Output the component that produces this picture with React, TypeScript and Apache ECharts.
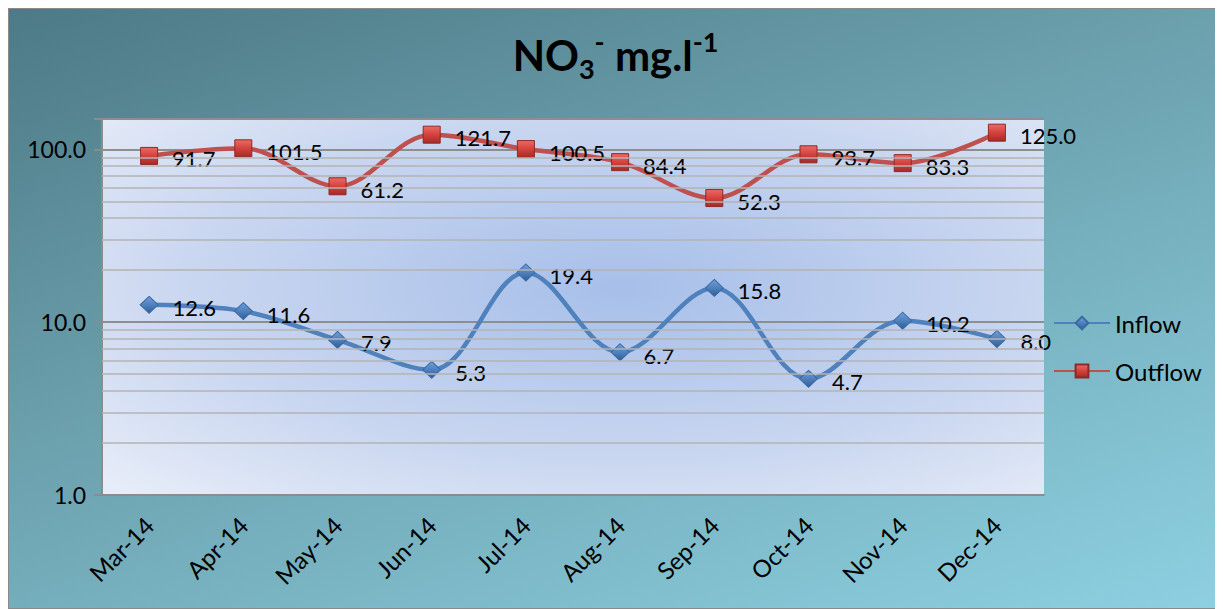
import React, { useEffect, useRef } from 'react';
import * as echarts from 'echarts';

const months = ['Mar-14', 'Apr-14', 'May-14', 'Jun-14', 'Jul-14', 'Aug-14', 'Sep-14', 'Oct-14', 'Nov-14', 'Dec-14'];
const inflow = [12.6, 11.6, 7.9, 5.3, 19.4, 6.7, 15.8, 4.7, 10.2, 8.0];
const outflow = [91.7, 101.5, 61.2, 121.7, 100.5, 84.4, 52.3, 93.7, 83.3, 125.0];
const majorTicks = [1, 10, 100];
const minorGrid = [2, 3, 4, 5, 6, 7, 8, 9, 20, 30, 40, 50, 60, 70, 80, 90];
const yMin = 1;
const yMax = 150;

const FONT = 'Lato, "Open Sans", "Liberation Sans", sans-serif';

export default function App() {
  const ref = useRef<HTMLDivElement>(null);

  useEffect(() => {
    if (!ref.current) return;
    const chart = echarts.init(ref.current, undefined, { renderer: 'svg' });

    const blueFill = new echarts.graphic.LinearGradient(0, 0, 0, 1, [
      { offset: 0, color: '#6f9fdc' },
      { offset: 0.5, color: '#4f81bd' },
      { offset: 1, color: '#2f5d95' },
    ]);
    const redFill = new echarts.graphic.LinearGradient(0, 0, 0, 1, [
      { offset: 0, color: '#ec6a64' },
      { offset: 0.5, color: '#d4423d' },
      { offset: 1, color: '#a52a26' },
    ]);

    const labelCommon = {
      show: true,
      position: 'right' as const,
      distance: 14,
      offset: [0, 3],
      color: '#000',
      fontSize: 22,
      fontFamily: FONT,
      formatter: (p: any) => Number(p.value).toFixed(1),
    };

    chart.setOption({
      animation: false,
      textStyle: { fontFamily: FONT },
      title: {
        left: 'center',
        top: 14,
        text: '{b|NO}{sub|3}{sup|-}{b| mg.l}{sup|-1}',
        textStyle: {
          rich: {
            b: { fontSize: 42, fontWeight: 'bold', color: '#000', fontFamily: FONT, lineHeight: 54 },
            sub: { fontSize: 27, fontWeight: 'bold', color: '#000', fontFamily: FONT, lineHeight: 27, verticalAlign: 'bottom' },
            sup: { fontSize: 27, fontWeight: 'bold', color: '#000', fontFamily: FONT, lineHeight: 54, verticalAlign: 'top' },
          },
        },
      },
      legend: {
        orient: 'vertical',
        left: 1039,
        top: 297,
        itemWidth: 56,
        itemHeight: 16,
        itemGap: 24,
        data: ['Inflow', 'Outflow'],
        textStyle: { fontSize: 24, color: '#000', fontFamily: FONT },
      },
      grid: {
        left: 93,
        top: 110,
        right: 178,
        bottom: 113,
        show: true,
        borderWidth: 0,
        backgroundColor: new echarts.graphic.RadialGradient(0.55, 0.45, 0.75, [
          { offset: 0, color: '#a7bfe9' },
          { offset: 0.6, color: '#c9d6f0' },
          { offset: 1, color: '#e6ecf8' },
        ]),
      },
      xAxis: {
        type: 'category',
        data: months,
        boundaryGap: true,
        axisLine: { show: true, lineStyle: { color: '#8c8c8c', width: 2 } },
        axisTick: { show: false },
        axisLabel: { rotate: 45, fontSize: 24, color: '#000', margin: 26, fontFamily: FONT },
        splitLine: { show: false },
      },
      yAxis: {
        type: 'log',
        logBase: 10,
        min: yMin,
        max: yMax,
        axisLine: { show: true, lineStyle: { color: '#8c8c8c', width: 2 } },
        axisTick: { show: true, inside: false, length: 8, lineStyle: { color: '#8c8c8c', width: 2 } },
        axisLabel: {
          fontSize: 23,
          color: '#000',
          margin: 16,
          fontFamily: FONT,
          formatter: (v: number) => {
            const hit = majorTicks.find((t) => Math.abs(t - v) / t < 1e-6);
            return hit !== undefined ? hit.toFixed(1) : '';
          },
        },
        splitLine: { show: true, lineStyle: { color: '#8e8e8e', width: 2 } },
      },
      series: [
        {
          name: 'minor',
          type: 'line',
          data: months.map(() => null),
          silent: true,
          z: 1,
          symbol: 'none',
          markLine: {
            silent: true,
            symbol: ['none', 'none'],
            label: { show: false },
            lineStyle: { color: '#b3b3b3', width: 1.5, type: 'solid' },
            data: minorGrid.map((v) => ({ yAxis: v })),
          },
        },
        {
          name: 'Inflow',
          type: 'line',
          data: inflow,
          z: 3,
          smooth: 0.35,
          symbol: 'diamond',
          symbolSize: [18, 17],
          lineStyle: { color: '#4f81bd', width: 4.5 },
          itemStyle: { color: blueFill, borderColor: '#3a6aa3', borderWidth: 1 },
          label: labelCommon,
        },
        {
          name: 'Outflow',
          type: 'line',
          data: outflow,
          z: 3,
          smooth: 0.35,
          symbol: 'rect',
          symbolSize: 17,
          lineStyle: { color: '#c0504d', width: 4.5 },
          itemStyle: { color: redFill, borderColor: '#8c2a27', borderWidth: 1 },
          label: labelCommon,
        },
      ],
    });

    return () => chart.dispose();
  }, []);

  return (
    <div
      ref={ref}
      style={{
        width: 1215,
        height: 601,
        boxSizing: 'border-box',
        border: '1px solid #8a8a8a',
        background: 'linear-gradient(160deg, #4d7a86 0%, #6a9eab 40%, #7fbccb 75%, #8dd0e1 100%)',
      }}
    />
  );
}
